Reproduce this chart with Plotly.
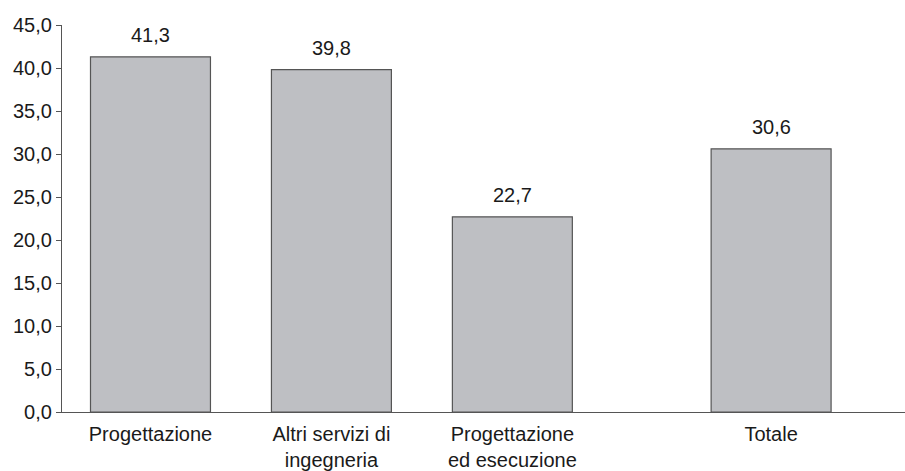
import plotly.graph_objects as go

# Shares by type of service (%)
categories = ["Progettazione", "Altri servizi di<br>ingegneria", "Progettazione<br>ed esecuzione", "Totale"]
values = [41.3, 39.8, 22.7, 30.6]
tick_values = [0, 5, 10, 15, 20, 25, 30, 35, 40, 45]

# The total sits apart from the detailed categories
detail_count = 3
total_gap = 1.43
x_pos = [float(i) for i in range(detail_count)] + [detail_count - 1 + total_gap]

font_family = "Liberation Sans, Arial, sans-serif"
font_size = 20

fig = go.Figure()
fig.add_trace(go.Bar(
    x=x_pos,
    y=values,
    width=0.663,
    marker=dict(color="#bebfc3", line=dict(color="#555555", width=1.2)),
    hoverinfo="skip",
))

for xp, v in zip(x_pos, values):
    fig.add_annotation(
        x=xp, y=v, text=f"{v:.1f}".replace(".", ","),
        showarrow=False, yanchor="bottom", yshift=9,
        font=dict(family=font_family, size=font_size, color="#1a1a1a"),
    )

fig.update_layout(
    width=905, height=471,
    margin=dict(l=62, r=0, t=25, b=57),
    paper_bgcolor="white", plot_bgcolor="white",
    showlegend=False,
    separators=",.",
    font=dict(family=font_family, size=font_size, color="#1a1a1a"),
    xaxis=dict(
        range=[-0.489, 4.17],
        tickmode="array", tickvals=x_pos, ticktext=categories,
        ticks="", showgrid=False, zeroline=False,
        showline=True, linecolor="#555555", linewidth=1.2,
        tickfont=dict(size=font_size),
        ticklabelstandoff=4,
    ),
    yaxis=dict(
        range=[0, 45],
        tickmode="array", tickvals=tick_values,
        tickformat=".1f",
        ticks="outside", ticklen=5, tickcolor="#555555", tickwidth=1.2,
        showgrid=False, zeroline=False,
        showline=True, linecolor="#555555", linewidth=1.2,
        tickfont=dict(size=font_size),
    ),
)

fig.write_html("out.html")
